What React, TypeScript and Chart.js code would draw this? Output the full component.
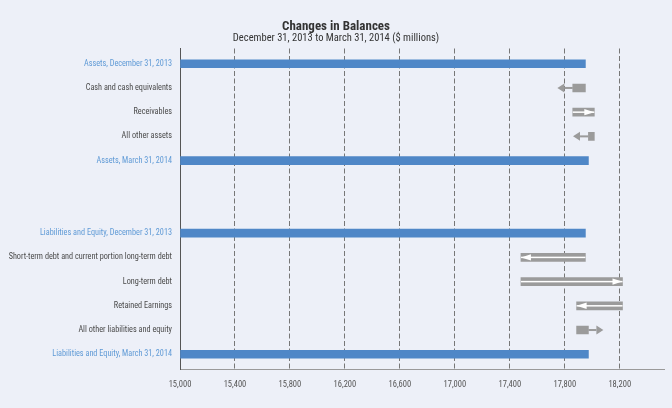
import React, { useEffect, useRef } from "react";
import { Chart, registerables } from "chart.js";

Chart.register(...registerables);

// ---- data ----
const categories = [
  "Assets, December 31, 2013",
  "Cash and cash equivalents",
  "Receivables",
  "All other assets",
  "Assets, March 31, 2014",
  "",
  "",
  "Liabilities and Equity, December 31, 2013",
  "Short-term debt and current portion long-term debt",
  "Long-term debt",
  "Retained Earnings",
  "All other liabilities and equity",
  "Liabilities and Equity, March 31, 2014",
];

const totalRows = [0, 4, 7, 12];
const totalValues = [17950, 17972, 17950, 17972];

// double-line arrows (from -> to, arrowhead at "to")
const hollowRows = [2, 8, 9, 10];
const hollowFrom = [17858, 17950, 17481, 18220];
const hollowTo = [18015, 17481, 18220, 17886];

// solid block followed by a thin arrow
const blockRows = [1, 3, 11];
const blockFrom = [17950, 18015, 17886];
const blockTo = [17858, 17972, 17972];
const blockArrowTip = [17746, 17860, 18081];

const xTickValues = [15000, 15400, 15800, 16200, 16600, 17000, 17400, 17800, 18200];
const xMin = 15000;
const xMax = 18522;

const titleText = "Changes in Balances";
const subtitleText = "December 31, 2013 to March 31, 2014 ($ millions)";

// ---- styles ----
const BG = "#edf0f8";
const BLUE = "#4f87c7";
const LABEL_BLUE = "#5f9ad6";
const GRAY = "#9b9b9b";
const TEXT = "#4a4a4a";
const FONT = "'Roboto Condensed', 'DejaVu Sans Condensed', 'Liberation Sans', sans-serif";
const BAR_H = 8;

const arrowPlugin = {
  id: "arrowDecor",
  afterDatasetsDraw(chart: any) {
    const { ctx } = chart;
    const x = chart.scales.x;
    const y = chart.scales.y;
    ctx.save();
    hollowRows.forEach((row, i) => {
      const yc = y.getPixelForValue(row);
      const x0 = x.getPixelForValue(hollowFrom[i]);
      const x1 = x.getPixelForValue(hollowTo[i]);
      const dir = Math.sign(x1 - x0);
      ctx.fillStyle = "#ffffff";
      ctx.fillRect(Math.min(x0, x1), yc - 0.75, Math.abs(x1 - x0), 1.5);
      ctx.beginPath();
      ctx.moveTo(x1, yc);
      ctx.lineTo(x1 - dir * 10, yc - BAR_H / 2 + 0.8);
      ctx.lineTo(x1 - dir * 10, yc + BAR_H / 2 - 0.8);
      ctx.closePath();
      ctx.fill();
    });
    blockRows.forEach((row, i) => {
      const yc = y.getPixelForValue(row);
      const xs = x.getPixelForValue(blockTo[i]);
      const xt = x.getPixelForValue(blockArrowTip[i]);
      const dir = Math.sign(xt - xs);
      const headLen = 7;
      const xb = xt - dir * headLen;
      ctx.fillStyle = GRAY;
      ctx.fillRect(Math.min(xs, xb), yc - 1, Math.abs(xb - xs), 2);
      ctx.beginPath();
      ctx.moveTo(xt, yc);
      ctx.lineTo(xb, yc - 4.5);
      ctx.lineTo(xb, yc + 4.5);
      ctx.closePath();
      ctx.fill();
    });
    ctx.restore();
  },
};

export default function App() {
  const ref = useRef<HTMLCanvasElement | null>(null);

  useEffect(() => {
    if (!ref.current) return;
    const chart = new Chart(ref.current, {
      type: "bar",
      data: {
        datasets: [
          {
            label: "Totals",
            data: totalRows.map((r, i) => ({ x: totalValues[i], y: r })),
            backgroundColor: BLUE,
            base: xMin,
            barThickness: BAR_H,
            grouped: false,
          } as any,
          {
            label: "Changes",
            data: hollowRows.map((r, i) => ({ x: [hollowFrom[i], hollowTo[i]], y: r })),
            backgroundColor: GRAY,
            barThickness: BAR_H,
            grouped: false,
          } as any,
          {
            label: "Changes (block)",
            data: blockRows.map((r, i) => ({ x: [blockFrom[i], blockTo[i]], y: r })),
            backgroundColor: GRAY,
            barThickness: BAR_H,
            grouped: false,
          } as any,
        ],
      },
      options: {
        indexAxis: "y",
        animation: false,
        responsive: false,
        devicePixelRatio: 1,
        layout: { padding: { left: 8, right: 8, top: 0, bottom: 0 } },
        plugins: {
          legend: { display: false },
          tooltip: { enabled: false },
          title: {
            display: true,
            text: titleText,
            color: "#333333",
            font: { family: FONT, size: 13, weight: "bold", lineHeight: 1 },
            padding: { top: 20, bottom: 0 },
          },
          subtitle: {
            display: true,
            text: subtitleText,
            color: "#333333",
            font: { family: FONT, size: 10.5, lineHeight: 1 },
            padding: { top: 0, bottom: 5 },
          },
        },
        scales: {
          x: {
            type: "linear",
            position: "bottom",
            min: xMin,
            max: xMax,
            offset: false,
            afterBuildTicks: (scale: any) => {
              scale.ticks = xTickValues.map((v) => ({ value: v }));
            },
            afterFit: (scale: any) => {
              scale.height = 39;
            },
            grid: { display: true, color: "#777777", lineWidth: 1, drawTicks: false },
            border: { display: true, color: "#9a9a9a", width: 1, dash: [5, 2.5] },
            ticks: {
              padding: 11,
              color: "#555555",
              font: { family: FONT, size: 8.5 },
              maxRotation: 0,
              callback: (v: any) => Number(v).toLocaleString("en-US"),
            },
          },
          y: {
            type: "linear",
            reverse: true,
            offset: false,
            min: -0.63,
            max: 12.61,
            afterBuildTicks: (scale: any) => {
              scale.ticks = categories.map((_, i) => ({ value: i }));
            },
            afterFit: (scale: any) => {
              scale.width = 172;
            },
            grid: { display: false, drawTicks: false },
            border: { display: true, color: "#555555", width: 1 },
            ticks: {
              padding: 8,
              font: { family: FONT, size: 8.2 },
              color: (c: any) => (totalRows.includes(c.tick?.value) ? LABEL_BLUE : TEXT),
              callback: (v: any) => categories[Number(v)] ?? "",
            },
          },
        },
      },
      plugins: [arrowPlugin],
    } as any);
    return () => chart.destroy();
  }, []);

  return (
    <div
      style={{
        position: "fixed",
        left: 0,
        top: 0,
        width: 672,
        height: 408,
        background: BG,
      }}
    >
      <canvas ref={ref} width={672} height={408} style={{ display: "block" }} />
    </div>
  );
}
